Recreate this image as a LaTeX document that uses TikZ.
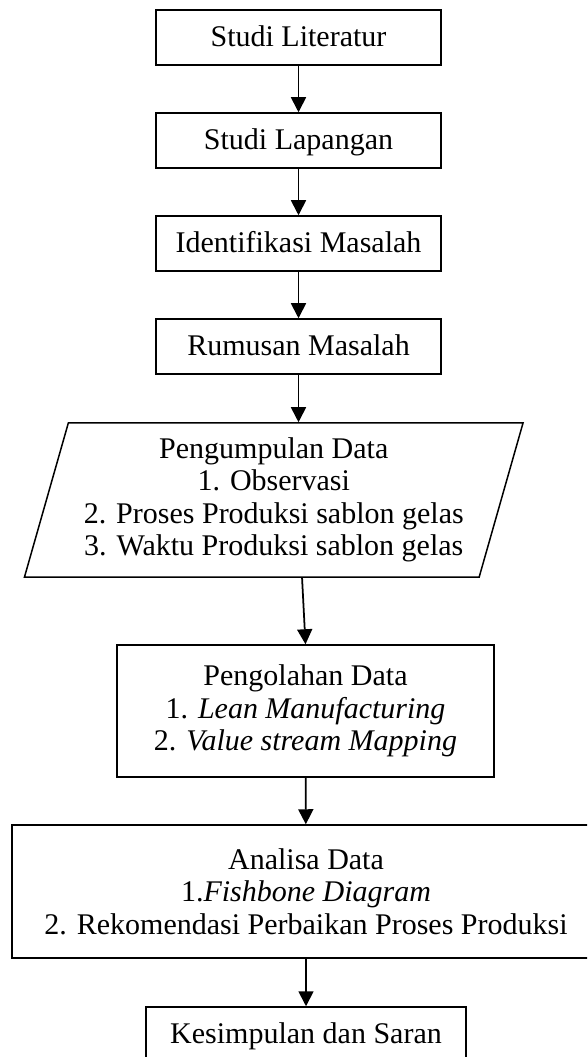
\documentclass[tikz,border=0pt]{standalone}
\usepackage{fontspec}
\setmainfont{Liberation Serif}
\usetikzlibrary{shapes.geometric,arrows.meta}
\begin{document}
\begin{tikzpicture}[x=0.4pt,y=-0.4pt,
    box/.style={draw,line width=0.6pt,inner sep=0pt,align=center,
      font=\fontsize{12}{13}\selectfont},
    single/.style={box,minimum height=22pt,text height=8.5pt,text depth=1.3pt},
    arr/.style={line width=0.7pt,-{Triangle[width=6pt,length=6pt]}}]
  \useasboundingbox (0,0) rectangle (587,1057);
  \clip (0,0) rectangle (587,1057);

  \foreach \n/\t/\y in {lit/Studi Literatur/37.5,lap/Studi Lapangan/140.5,
      ident/Identifikasi Masalah/243.5,rumus/Rumusan Masalah/346.5}
    \node[single,minimum width=114pt] (\n) at (298.5,\y) {\t};

  \node[box,trapezium,trapezium left angle=72,trapezium right angle=108,
    trapezium stretches,minimum width=199.6pt,minimum height=61.6pt]
    (data) at (273.75,500)
    {Pengumpulan Data\\1. Observasi\\2. Proses Produksi sablon gelas\\3. Waktu Produksi sablon gelas};

  \node[box,minimum width=150.8pt,minimum height=52.8pt] (olah) at (305.5,711)
    {Pengolahan Data\\1. \textit{Lean Manufacturing}\\2. \textit{Value stream Mapping}};
  \node[box,minimum width=235.2pt,minimum height=53.2pt] (analisa) at (306,891.5)
    {Analisa Data\\1.\textit{Fishbone Diagram}\\2. Rekomendasi Perbaikan Proses Produksi};
  \node[single,minimum width=128pt] (simpul) at (306,1034.5) {Kesimpulan dan Saran};

  \foreach \a/\b in {lit/lap,lap/ident,ident/rumus}
    \draw[arr] (\a) -- (\b);
  \draw[arr] (rumus) -- (rumus |- data.north);
  \draw[arr] ([xshift=11.3pt]data.south) -- (olah.north);
  \draw[arr] (olah) -- (analisa);
  \draw[arr] (analisa) -- (simpul);
\end{tikzpicture}
\end{document}
